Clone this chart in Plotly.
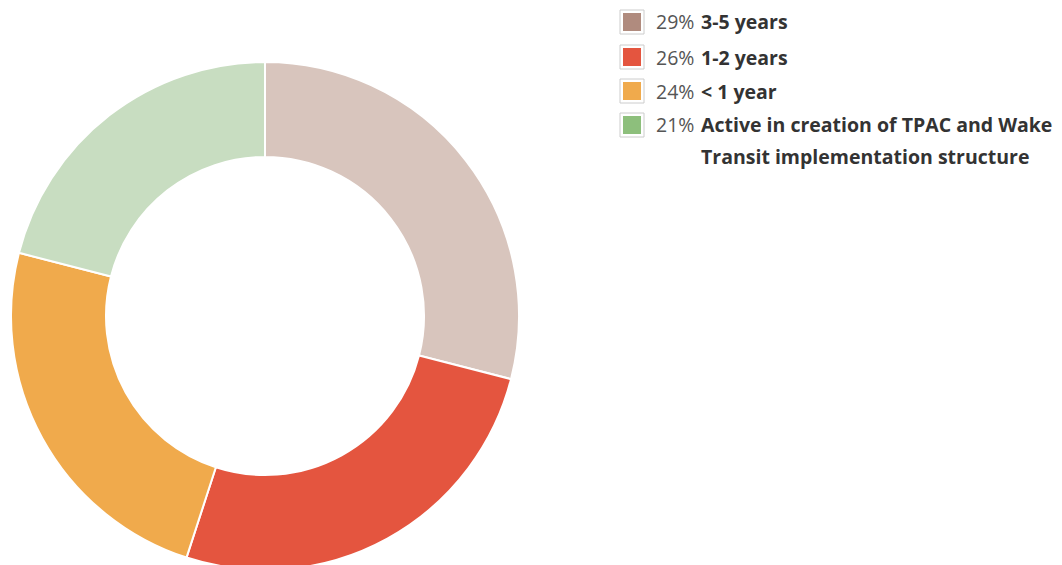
import plotly.graph_objects as go

labels = ["3-5 years", "1-2 years", "< 1 year",
          "Active in creation of TPAC and Wake<br>Transit implementation structure"]
values = [29, 26, 24, 21]
slice_colors = ["#D8C5BD", "#E4553F", "#F0AA4C", "#C8DDC1"]
swatch_colors = ["#B08B7E", "#E4553F", "#F0AA4C", "#8DBF7C"]

W, H = 1062, 575  # bottom 10px fall outside the 565px viewport
fig = go.Figure()
fig.add_trace(go.Pie(
    labels=[l.replace("<br>", " ") for l in labels], values=values,
    sort=False, direction="clockwise", rotation=0, hole=0.626,
    marker=dict(colors=slice_colors, line=dict(color="white", width=2)),
    textinfo="none", hoverinfo="label+percent", showlegend=False,
    domain=dict(x=[11 / W, 519 / W], y=[5 / H, 513 / H]),
))

def py(ypx):
    return 1 - ypx / H

total = sum(values)
row_y = [22, 57, 91, 125]
line_h = 31
fs = 19.5
for i, (lab, val) in enumerate(zip(labels, values)):
    yc = row_y[i]
    fig.add_shape(type="rect", xref="paper", yref="paper",
                  x0=620 / W, x1=644 / W, y0=py(yc - 12), y1=py(yc + 12),
                  line=dict(color="#cccccc", width=1), fillcolor="white")
    fig.add_shape(type="rect", xref="paper", yref="paper",
                  x0=623 / W, x1=641 / W, y0=py(yc - 9), y1=py(yc + 9),
                  line=dict(width=0), fillcolor=swatch_colors[i])
    pct = round(100 * val / total)
    fig.add_annotation(x=654 / W, y=py(yc), xref="paper", yref="paper",
                       xanchor="left", yanchor="middle", showarrow=False,
                       text=f"{pct}%", font=dict(size=fs, color="#555555",
                                                 family="Open Sans"))
    for j, line in enumerate(lab.split("<br>")):
        fig.add_annotation(x=699 / W, y=py(yc + j * line_h), xref="paper",
                           yref="paper", xanchor="left", yanchor="middle",
                           showarrow=False, text=f"<b>{line}</b>",
                           font=dict(size=fs, color="#333333",
                                     family="Open Sans"))

fig.update_layout(width=W, height=H, margin=dict(l=0, r=0, t=0, b=0),
                  paper_bgcolor="white", plot_bgcolor="white")
fig.write_html("out.html", config={"displayModeBar": False},
               post_script="document.body.style.margin='0';"
                           "document.body.style.overflow='hidden';")
